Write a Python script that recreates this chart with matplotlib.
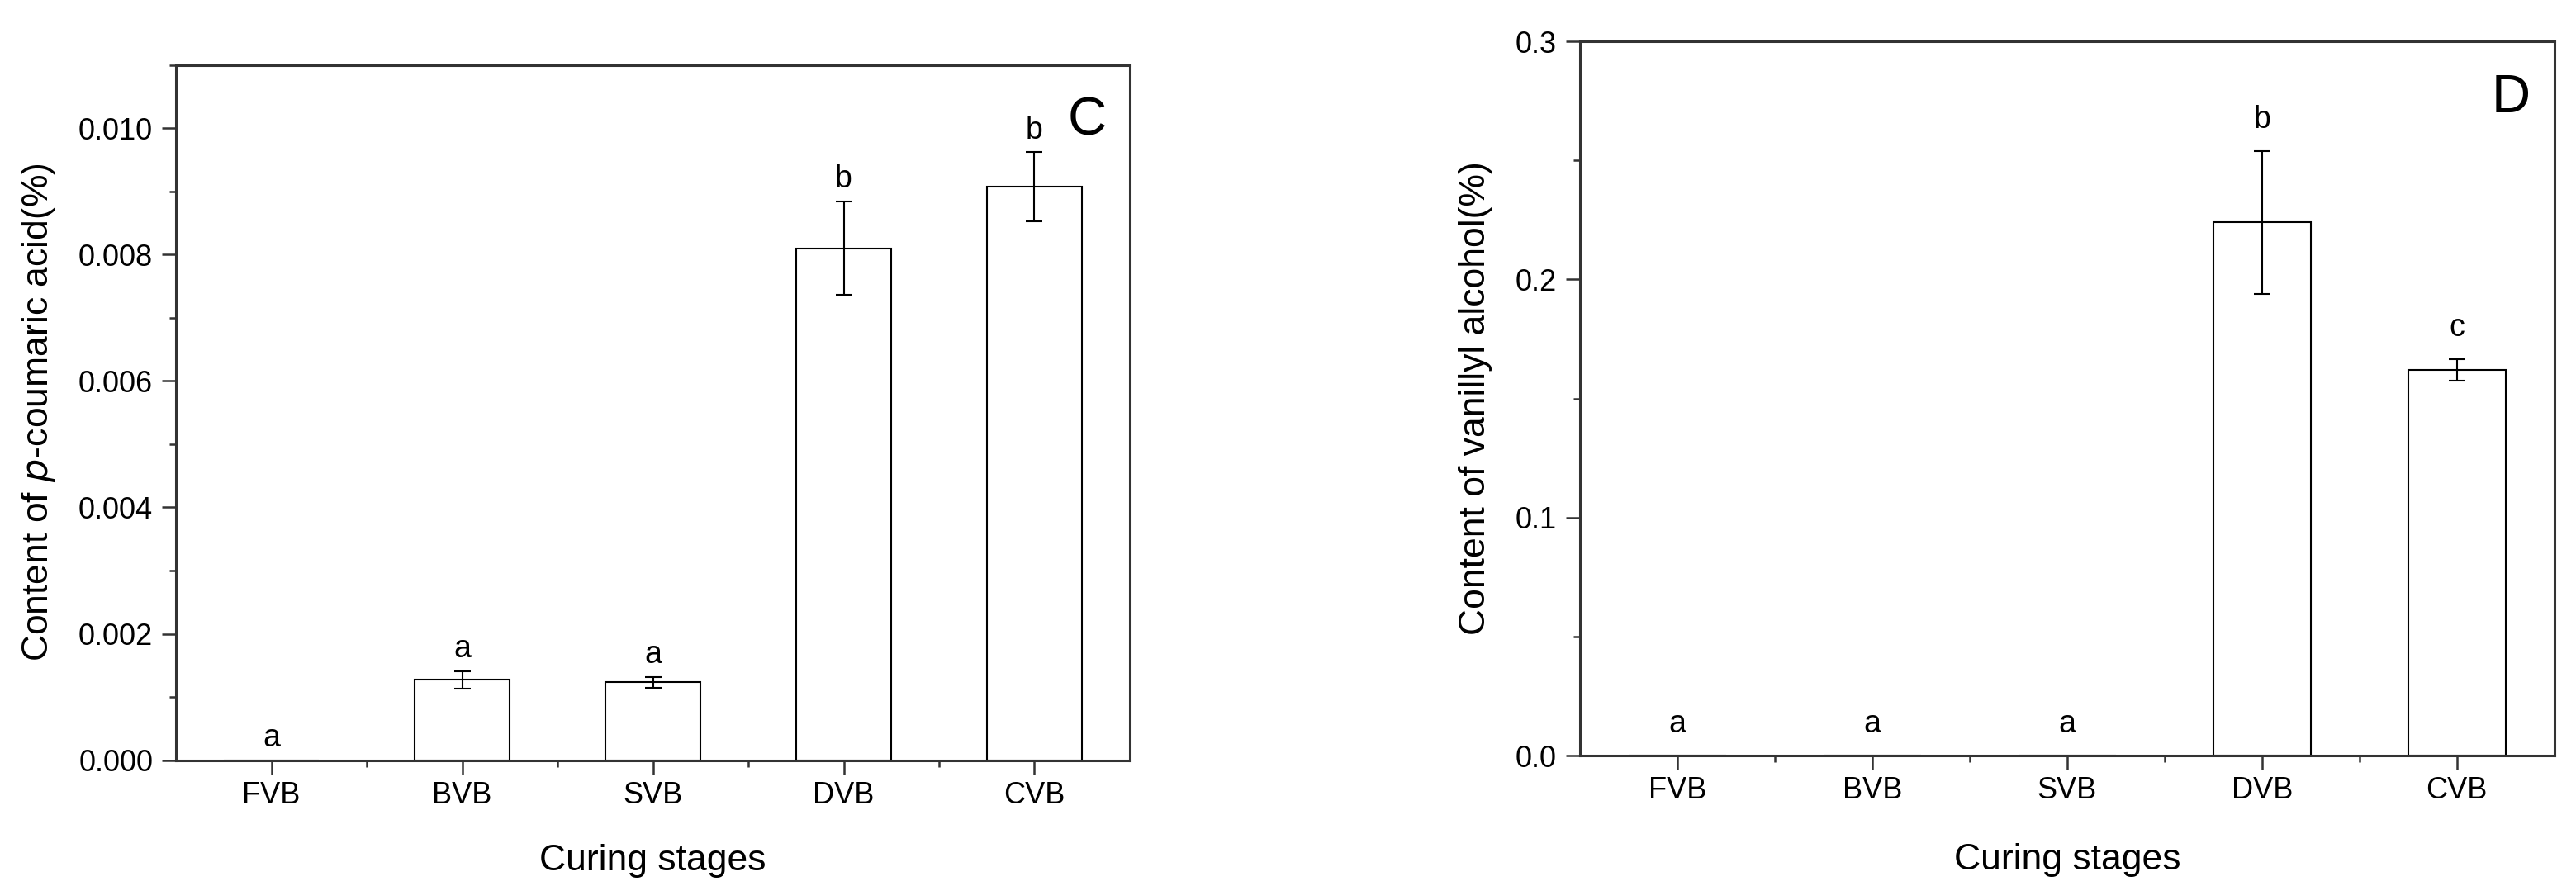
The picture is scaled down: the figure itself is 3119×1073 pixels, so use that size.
import matplotlib.pyplot as plt
from matplotlib.ticker import MultipleLocator

plt.rcParams['font.family'] = ['Liberation Sans', 'DejaVu Sans']

stages = ['FVB', 'BVB', 'SVB', 'DVB', 'CVB']

# p-coumaric acid (%)
coumaric = [0.0, 0.00127, 0.00123, 0.00810, 0.00907]
coumaric_err = [0.0, 0.00014, 0.000085, 0.00074, 0.00055]
coumaric_sig = ['a', 'a', 'a', 'b', 'b']

# vanillyl alcohol (%)
vanillyl = [0.0, 0.0, 0.0, 0.224, 0.162]
vanillyl_err = [0.0, 0.0, 0.0, 0.030, 0.0044]
vanillyl_sig = ['a', 'a', 'a', 'b', 'c']

fig = plt.figure(figsize=(31.19, 10.73), dpi=100)
ax1 = fig.add_axes([0.0683, 0.1420, 0.3703, 0.7847])
ax2 = fig.add_axes([0.6133, 0.1472, 0.3783, 0.8062])

spine_col = '#333333'


def draw_panel(ax, vals, errs, sig, ylim, major, minor, fmt, ylabel, tag,
               sig_off, ylab_x, xlab_y):
    x = list(range(1, len(stages) + 1))
    ax.bar(x, vals, width=0.5, color='white', edgecolor='black',
           linewidth=1.5, zorder=2)
    ebx = [xi for xi, e in zip(x, errs) if e > 0]
    eby = [v for v, e in zip(vals, errs) if e > 0]
    ebe = [e for e in errs if e > 0]
    ax.errorbar(ebx, eby, yerr=ebe, fmt='none', ecolor='black',
                elinewidth=1.5, capsize=7, capthick=1.5, zorder=3)
    for xi, v, e, s in zip(x, vals, errs, sig):
        ax.annotate(s, (xi, v + e), xytext=(0, sig_off),
                    textcoords='offset points', ha='center', va='baseline',
                    fontsize=27)
    ax.set_xlim(0.5, len(stages) + 0.5)
    ax.set_ylim(*ylim)
    ax.set_xticks(x)
    ax.set_xticklabels(stages)
    ax.set_xticks([xi + 0.5 for xi in x[:-1]], minor=True)
    ax.yaxis.set_major_locator(MultipleLocator(major))
    ax.yaxis.set_minor_locator(MultipleLocator(minor))
    ax.yaxis.set_major_formatter(plt.FormatStrFormatter(fmt))
    ax.tick_params(which='major', direction='out', length=12, width=1.8,
                   color=spine_col, labelsize=26, pad=8)
    ax.tick_params(which='minor', direction='out', length=6, width=1.8,
                   color=spine_col)
    ax.tick_params(axis='x', which='major', pad=6)
    for sp in ax.spines.values():
        sp.set_linewidth(2.2)
        sp.set_color(spine_col)
    ax.set_ylabel(ylabel, fontsize=32)
    ax.yaxis.set_label_coords(ylab_x, 0.5)
    ax.set_xlabel('Curing stages', fontsize=32)
    ax.xaxis.set_label_coords(0.5, xlab_y)
    ax.text(0.955, 0.92, tag, transform=ax.transAxes, fontsize=47,
            ha='center', va='center')


draw_panel(ax1, coumaric, coumaric_err, coumaric_sig, (0, 0.011), 0.002,
           0.001, '%.3f', 'Content of $\\it{p}$-coumaric acid(%)', 'C',
           12, -0.125, -0.12)
draw_panel(ax2, vanillyl, vanillyl_err, vanillyl_sig, (0, 0.3), 0.1,
           0.05, '%.1f', 'Content of vanillyl alcohol(%)', 'D',
           20, -0.09, -0.122)

fig.savefig('out.png', dpi=100)
